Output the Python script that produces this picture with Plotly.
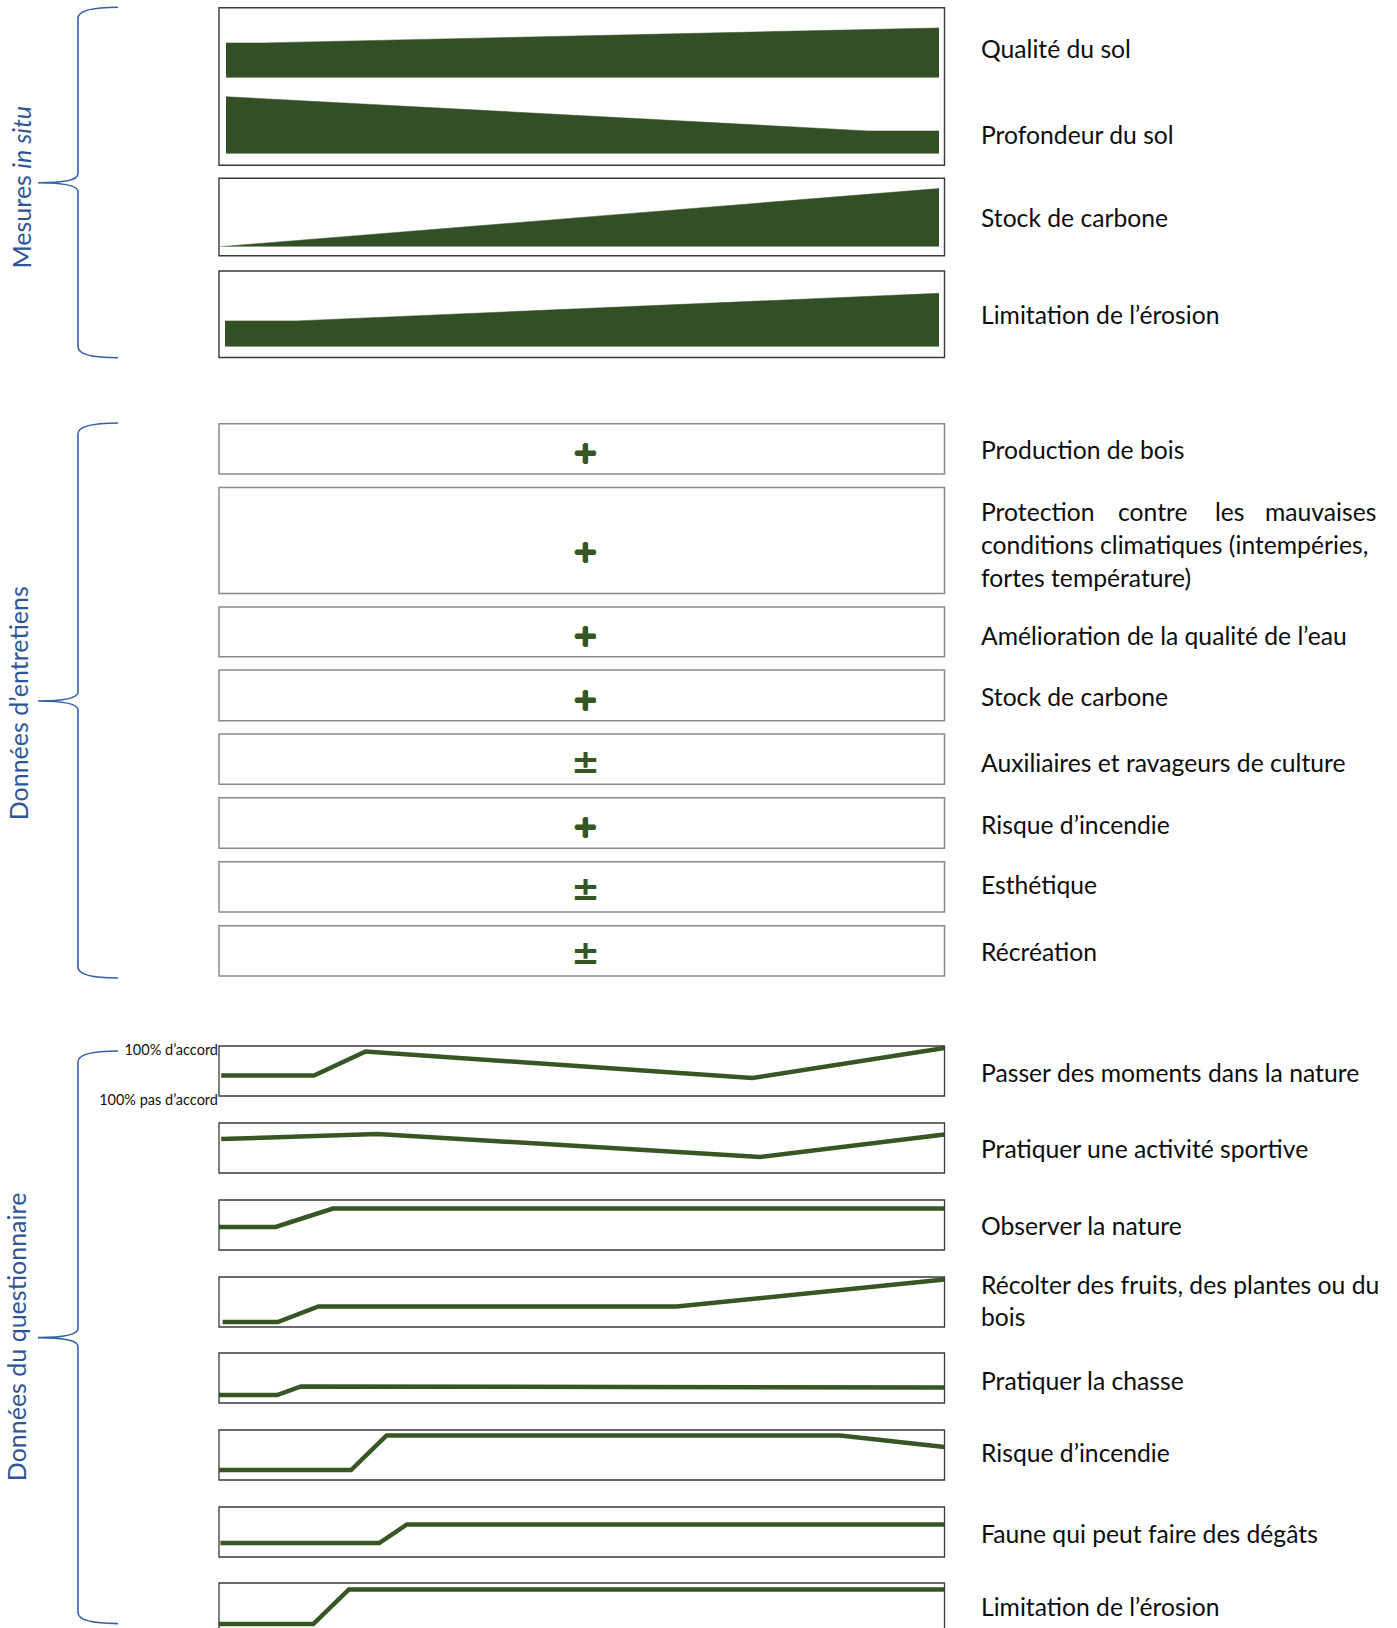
import plotly.graph_objects as go

W, H = 1397, 1628
AREA_GREEN = "#334f25"
LINE_GREEN = "#375623"
BLUE = "#2F5597"
BRACE_BLUE = "#3461a8"
FONT = "Lato"
LABEL_SIZE = 24.7

# ---------------- data ----------------
# Section 1 : mesures in situ (relative thickness of the band along the gradient)
insitu_labels = ["Qualité du sol", "Profondeur du sol", "Stock de carbone", "Limitation de l’érosion"]
insitu_x = [[0, 0.054, 1], [0, 0.90, 1], [0, 1], [0, 0.10, 1]]
insitu_v = [[0.58, 0.58, 0.83], [0.95, 0.38, 0.38], [0.0, 0.97], [0.43, 0.43, 0.89]]

# Section 2 : données d'entretiens
interview_labels = ["Production de bois",
                    "Protection contre les mauvaises conditions climatiques (intempéries, fortes température)",
                    "Amélioration de la qualité de l’eau", "Stock de carbone",
                    "Auxiliaires et ravageurs de culture", "Risque d’incendie", "Esthétique", "Récréation"]
interview_signs = ["+", "+", "+", "+", "±", "+", "±", "±"]

# Section 3 : données du questionnaire (0 = 100% pas d'accord, 1 = 100% d'accord)
survey_labels = ["Passer des moments dans la nature", "Pratiquer une activité sportive",
                 "Observer la nature", "Récolter des fruits, des plantes ou du bois",
                 "Pratiquer la chasse", "Risque d’incendie", "Faune qui peut faire des dégâts",
                 "Limitation de l’érosion"]
survey_x = [[0.003, 0.131, 0.202, 0.735, 1.0],
            [0.003, 0.218, 0.746, 1.0],
            [0.0, 0.078, 0.157, 1.0],
            [0.005, 0.081, 0.137, 0.631, 1.0],
            [0.0, 0.08, 0.113, 1.0],
            [0.0, 0.182, 0.231, 0.856, 1.0],
            [0.002, 0.221, 0.259, 1.0],
            [0.0, 0.13, 0.179, 1.0]]
survey_v = [[0.41, 0.41, 0.89, 0.36, 0.96],
            [0.68, 0.78, 0.32, 0.77],
            [0.46, 0.46, 0.83, 0.83],
            [0.10, 0.10, 0.41, 0.41, 0.95],
            [0.16, 0.16, 0.33, 0.31],
            [0.20, 0.20, 0.89, 0.89, 0.66],
            [0.28, 0.28, 0.65, 0.65],
            [0.18, 0.18, 0.87, 0.87]]
survey_ticks = ["100% pas d’accord", "100% d’accord"]

section_titles = ["Mesures <i>in situ</i>", "Données d’entretiens", "Données du questionnaire"]

# ---------------- layout geometry (pixels) ----------------
def px(x):
    return x / W


def py(y):
    return 1 - y / H


BOX_L, BOX_R = 219, 944.5
LABEL_X = 980

fig = go.Figure()
layout = dict(width=W, height=H, margin=dict(l=0, r=0, t=0, b=0, pad=0, autoexpand=False),
              template="none", autosize=False,
              paper_bgcolor="white", plot_bgcolor="rgba(0,0,0,0)", showlegend=False)
shapes = []
annotations = []
axis_n = [0]


def new_axes(x0, x1, ytop, ybot, xr=(0, 1), yr=(0, 1), yaxis_extra=None):
    axis_n[0] += 1
    n = axis_n[0]
    sfx = "" if n == 1 else str(n)
    layout["xaxis" + sfx] = dict(domain=[px(x0), px(x1)], range=list(xr), anchor="y" + sfx,
                                 visible=False, fixedrange=True, automargin=False)
    ya = dict(domain=[max(py(ybot), 0), py(ytop)], range=list(yr), anchor="x" + sfx,
              visible=False, fixedrange=True, automargin=False)
    if yaxis_extra:
        ya.update(yaxis_extra)
    layout["yaxis" + sfx] = ya
    return "x" + sfx, "y" + sfx


def box(x0, y0, x1, y1, color, width):
    shapes.append(dict(type="rect", xref="paper", yref="paper", x0=px(x0), x1=px(x1),
                       y0=py(y1), y1=py(y0), line=dict(color=color, width=width),
                       fillcolor="rgba(0,0,0,0)", layer="above"))


def label(text, y, size=LABEL_SIZE, xpos=LABEL_X, anchor="left"):
    annotations.append(dict(text=text, x=px(xpos), y=py(y), xref="paper", yref="paper",
                            xanchor=anchor, yanchor="middle", showarrow=False, borderpad=0,
                            font=dict(family=FONT, size=size, color="#0d0d0d")))


def brace(top, tip, bottom):
    pts = lambda x, y: f"{px(x):.5f},{py(y):.5f}"
    path = ("M " + pts(118, top) +
            " C " + pts(92, top) + " " + pts(78, top + 3) + " " + pts(78, top + 11) +
            " L " + pts(78, tip - 9) +
            " C " + pts(78, tip - 2) + " " + pts(62, tip) + " " + pts(38, tip) +
            " C " + pts(62, tip) + " " + pts(78, tip + 2) + " " + pts(78, tip + 9) +
            " L " + pts(78, bottom - 11) +
            " C " + pts(78, bottom - 3) + " " + pts(92, bottom) + " " + pts(118, bottom))
    shapes.append(dict(type="path", xref="paper", yref="paper", path=path,
                       line=dict(color=BRACE_BLUE, width=1.6)))


def section_title(text, x, y):
    annotations.append(dict(text=text, x=px(x), y=py(y), xref="paper", yref="paper",
                            textangle=-90, showarrow=False, xanchor="center", yanchor="middle",
                            font=dict(family=FONT, size=25, color=BLUE)))


# ---------------- Section 1 ----------------
box(BOX_L, 7.8, BOX_R, 165.3, "#3a3a3a", 1.4)
box(BOX_L, 178.3, BOX_R, 255.7, "#3a3a3a", 1.4)
box(BOX_L, 271, BOX_R, 357.5, "#3a3a3a", 1.4)
s1_geom = [(226, 939, 77.7), (226, 939, 153.7), (220, 939, 246.7), (225, 939, 346.7)]
s1_label_y = [48, 134.5, 217, 314.3]
SCALE_H = 60
for i, (x0, x1, base) in enumerate(s1_geom):
    xa, ya = new_axes(x0, x1, base - SCALE_H, base)
    fig.add_trace(go.Scatter(x=insitu_x[i], y=insitu_v[i], xaxis=xa, yaxis=ya, mode="lines",
                             fill="tozeroy", fillcolor=AREA_GREEN,
                             line=dict(width=0.5, color=AREA_GREEN), hoverinfo="skip"))
    label(insitu_labels[i], s1_label_y[i])
brace(7.3, 182.7, 357.7)
section_title(section_titles[0], 20.5, 187)

# ---------------- Section 2 ----------------
s2_boxes = [(423.7, 474), (487.4, 593.5), (606.9, 656.7), (670.1, 720.7),
            (734.1, 784.3), (797.7, 848.3), (861.7, 911.9), (925.7, 975.9)]
s2_label_y = [449, None, 635.5, 696.4, 762.9, 824, 885, 952]
c = LINE_GREEN
thick = f"0.9px 0 0 {c}, -0.9px 0 0 {c}, 0 0.9px 0 {c}, 0 -0.9px 0 {c}"
for i, (t, b) in enumerate(s2_boxes):
    box(BOX_L, t, BOX_R, b, "#8a8a8a", 1.5)
    xa, ya = new_axes(BOX_L, BOX_R, t, b)
    sign = interview_signs[i]
    plus = sign == "+"
    fig.add_trace(go.Scatter(x=[0.505], y=[0.37 if plus else 0.40], xaxis=xa, yaxis=ya,
                             mode="text", text=["<b>" + sign + "</b>"], textposition="middle center",
                             textfont=dict(family="DejaVu Sans", size=31 if plus else 34,
                                           weight="bold", color=LINE_GREEN,
                                           shadow=thick if plus else "none"),
                             hoverinfo="skip"))
    if s2_label_y[i] is not None:
        label(interview_labels[i], s2_label_y[i])
# justified three-line label
words = interview_labels[1].split(" ")
label(words[0], 511.5)
label(words[1], 511.5, xpos=1117)
label(words[2], 511.5, xpos=1214)
label(words[3], 511.5, xpos=1377, anchor="right")
label(" ".join(words[4:7]), 544.5)
label(" ".join(words[7:]), 577)
brace(423, 701, 978)
section_title(section_titles[1], 18.3, 703)

# ---------------- Section 3 ----------------
s3_tops = [1046, 1123, 1200, 1277, 1353, 1430, 1507, 1583]
S3_H = 50
s3_label_y = [1072, 1148, 1225, None, 1380, 1452.5, 1533.5, 1606]
for i, t in enumerate(s3_tops):
    b = t + S3_H
    box(BOX_L, t, BOX_R, b, "#3a3a3a", 1.3)
    ylow = max(0.0, (b - H) / S3_H)
    extra = None
    if i == 0:
        extra = dict(visible=True, showticklabels=True, tickvals=[0, 1], ticktext=survey_ticks,
                     ticks="", showgrid=False, zeroline=False, showline=False, ticklabelshift=4,
                     tickfont=dict(family=FONT, size=14.5, color="#111111"))
    xa, ya = new_axes(BOX_L, BOX_R, t, min(b, H), yr=(ylow, 1), yaxis_extra=extra)
    fig.add_trace(go.Scatter(x=survey_x[i], y=survey_v[i], xaxis=xa, yaxis=ya, mode="lines",
                             line=dict(color=LINE_GREEN, width=4.5), hoverinfo="skip"))
    if s3_label_y[i] is not None:
        label(survey_labels[i], s3_label_y[i])
label("Récolter des fruits, des plantes ou du", 1284.5)
label("bois", 1316.5)
brace(1051, 1337.6, 1623.6)
section_title(section_titles[2], 15.5, 1336.7)

layout["shapes"] = shapes
layout["annotations"] = annotations
fig.update_layout(**layout)
fig.write_html("out.html", config={"displayModeBar": False},
               post_script="document.body.style.margin='0';document.body.style.overflow='hidden';")
